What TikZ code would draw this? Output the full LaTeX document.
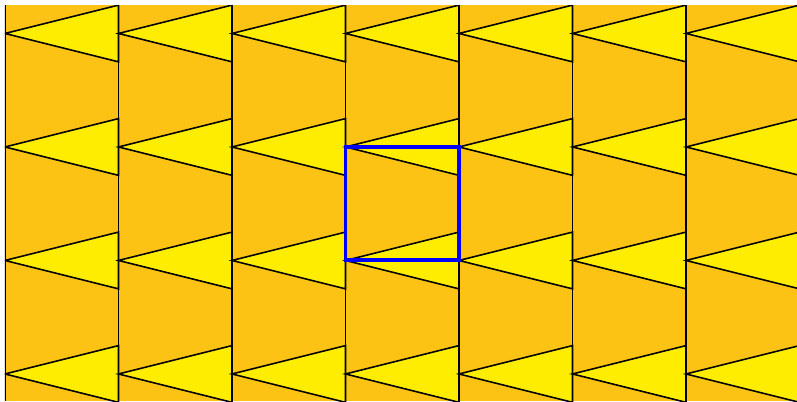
\documentclass[tikz,border=0pt]{standalone}
\definecolor{Amber}{HTML}{FCC314}
\definecolor{Lemon}{HTML}{FFED00}
\begin{document}
\begin{tikzpicture}[x=1cm,y=1cm,line width=.4pt]
\useasboundingbox(-.044,-.238)rectangle(6.978,3.295);
\fill[Amber](0,-.238)rectangle(6.978,3.25);
\begin{scope}
\clip(0,-.238)rectangle(6.978,3.25);
\foreach \i in {0,...,6}{\foreach \j in {0,...,3}{
\filldraw[fill=Lemon](\i,\j)--(\i+1,\j+.25)--(\i+1,\j-.25)--cycle;}}
\foreach \i in {0,...,6}{\draw(\i,-.238)--(\i,3.25);}
\end{scope}
\draw[blue,line width=1pt](3,1)rectangle(4,2);
\end{tikzpicture}
\end{document}
